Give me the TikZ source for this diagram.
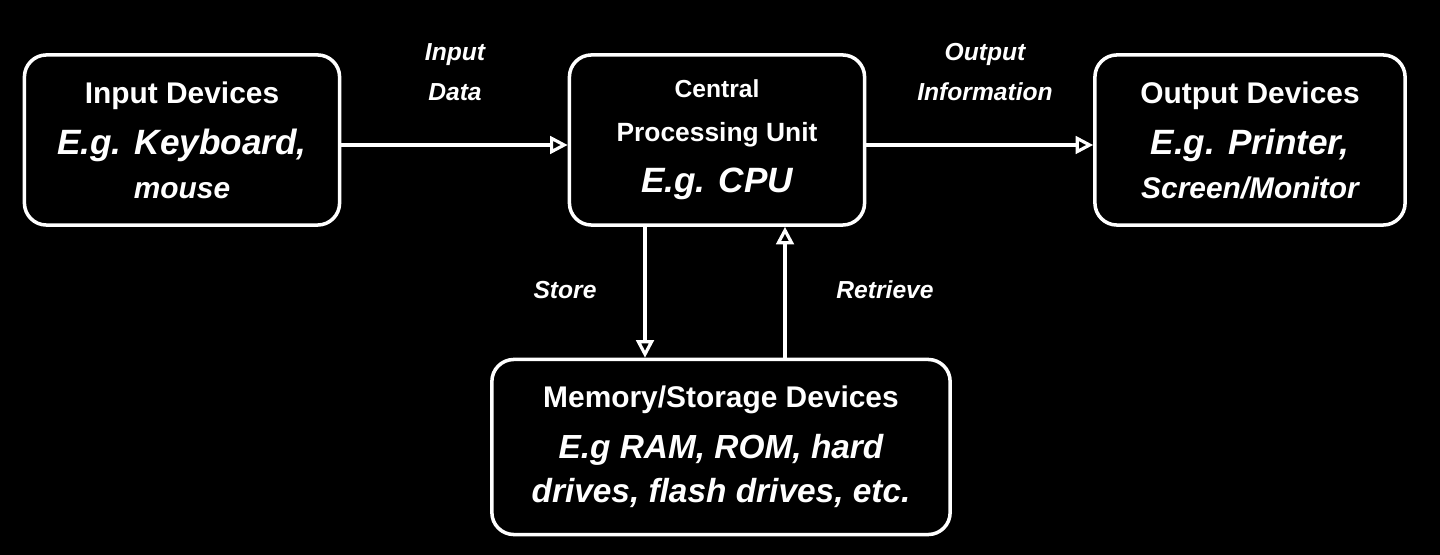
\documentclass[tikz,border=0pt]{standalone}
\usepackage{fontspec}
\setmainfont{Liberation Sans}
\usetikzlibrary{arrows.meta}
\begin{document}
\begin{tikzpicture}[x=0.01cm,y=-0.01cm,
  box/.style={draw=white,line width=1pt,rounded corners=0.22cm,align=center,text=white,font=\bfseries\fontsize{8.5}{12.5}\selectfont,inner sep=0pt},
  lab/.style={text=white,align=center,font=\bfseries\itshape\fontsize{7}{11.5}\selectfont},
  conn/.style={draw=white,line width=0.9pt,-{Triangle[open,length=5pt,width=5pt]}}]
\fill[black] (0,0) rectangle (1440,555);
\useasboundingbox (0,0) rectangle (1440,555);
\node[box,minimum width=3.15cm,minimum height=1.7cm] (in) at (182,140) {Input Devices\\[2pt] {\itshape\fontsize{10}{13}\selectfont E.g. Keyboard,}\\ \itshape mouse};
\node[box,minimum width=2.95cm,minimum height=1.7cm] (cpu) at (717,140) {{\fontsize{7}{11}\selectfont Central}\\ {\fontsize{7.5}{11}\selectfont Processing Unit}\\[2pt] {\itshape\fontsize{10}{13}\selectfont E.g. CPU}};
\node[box,minimum width=3.1cm,minimum height=1.7cm] (out) at (1250,140) {Output Devices\\[2pt] {\itshape\fontsize{10}{13}\selectfont E.g. Printer,}\\ \itshape Screen/Monitor};
\node[box,minimum width=4.58cm,minimum height=1.75cm] (mem) at (721,447) {Memory/Storage Devices\\[2pt] {\itshape\fontsize{9.5}{13}\selectfont E.g RAM, ROM, hard}\\ {\itshape\fontsize{9.5}{13}\selectfont drives, flash drives, etc.}};
\draw[conn] (in.east |- 0,145) -- (cpu.west |- 0,145);
\draw[conn] (cpu.east |- 0,145) -- (out.west |- 0,145);
\draw[conn] (cpu.south -| 645,0) -- (mem.north -| 645,0);
\draw[conn] (mem.north -| 785,0) -- (cpu.south -| 785,0);
\node[lab] (l1) at (455,72) {Input\\Data};
\node[lab] (l2) at (985,72) {Output\\Information};
\node[lab] (l3) at (565,290) {Store};
\node[lab] (l4) at (885,290) {Retrieve};
\end{tikzpicture}
\end{document}
